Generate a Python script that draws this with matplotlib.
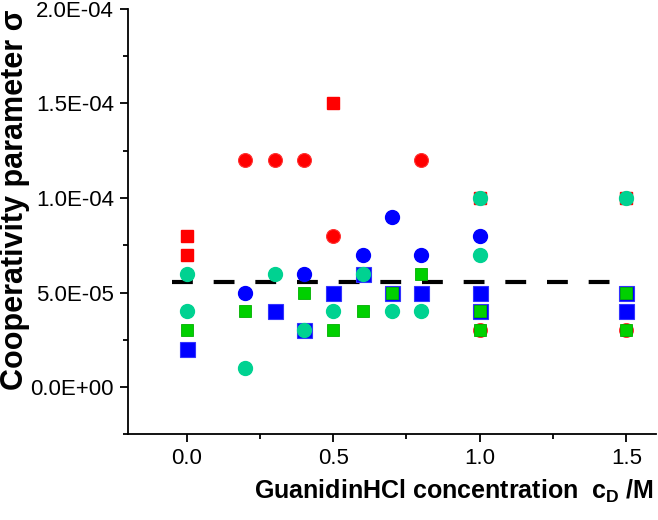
import matplotlib.pyplot as plt
from matplotlib.ticker import MultipleLocator, FuncFormatter

plt.rcParams['font.family'] = ['Liberation Sans', 'DejaVu Sans']
plt.rcParams['mathtext.fontset'] = 'custom'
plt.rcParams['mathtext.bf'] = 'Liberation Sans:bold'
plt.rcParams['mathtext.rm'] = 'Liberation Sans'

# Data (x = GuanidinHCl concentration, y = sigma)
red_sq_x = [0.0, 0.0, 0.5, 1.0, 1.5]
red_sq_y = [8e-5, 7e-5, 1.5e-4, 1e-4, 1e-4]

red_ci_x = [0.2, 0.3, 0.4, 0.5, 0.8, 1.0, 1.5]
red_ci_y = [1.2e-4, 1.2e-4, 1.2e-4, 8e-5, 1.2e-4, 3e-5, 3e-5]

blue_ci_x = [0.2, 0.4, 0.6, 0.7, 0.8, 1.0]
blue_ci_y = [5e-5, 6e-5, 7e-5, 9e-5, 7e-5, 8e-5]

blue_sq_x = [0.0, 0.3, 0.4, 0.5, 0.6, 0.7, 0.8, 1.0, 1.0, 1.5, 1.5]
blue_sq_y = [2e-5, 4e-5, 3e-5, 5e-5, 6e-5, 5e-5, 5e-5, 5e-5, 4e-5, 5e-5, 4e-5]

green_sq_x = [0.0, 0.2, 0.4, 0.5, 0.6, 0.7, 0.8, 1.0, 1.0, 1.5, 1.5]
green_sq_y = [3e-5, 4e-5, 5e-5, 3e-5, 4e-5, 5e-5, 6e-5, 4e-5, 3e-5, 5e-5, 3e-5]

teal_ci_x = [0.0, 0.0, 0.2, 0.3, 0.4, 0.5, 0.6, 0.7, 0.8, 1.0, 1.0, 1.5]
teal_ci_y = [6e-5, 4e-5, 1e-5, 6e-5, 3e-5, 4e-5, 6e-5, 4e-5, 4e-5, 1e-4, 7e-5, 1e-4]

mean_x = [-0.05, 1.5]
mean_y = [5.57e-5, 5.57e-5]

fig = plt.figure(figsize=(6.58, 5.2), dpi=100)
ax = fig.add_axes([0.1945, 0.1648, 0.802, 0.818])

ax.plot(mean_x, mean_y, color='black', lw=3, dashes=(5, 5), zorder=1)
ax.plot(red_sq_x, red_sq_y, 's', color='#ff0000', ms=9, mec='#ff0000', zorder=2)
ax.plot(red_ci_x, red_ci_y, 'o', color='#ff0000', ms=10, mec='#ff3333', mew=0.8, zorder=3)
ax.plot(blue_ci_x, blue_ci_y, 'o', color='#0000ff', ms=10, mec='#0000ff', zorder=4)
ax.plot(blue_sq_x, blue_sq_y, 's', color='#0000ff', ms=10.8, mec='#3333ff', mew=0.8, zorder=5)
ax.plot(green_sq_x, green_sq_y, 's', color='#00d000', ms=8.6, mec='#00b000', mew=0.6, zorder=6)
ax.plot(teal_ci_x, teal_ci_y, 'o', color='#00d291', ms=10, mec='#00d291', zorder=7)

ax.set_xlim(-0.2, 1.6)
ax.set_ylim(-2.5e-5, 2e-4)
ax.xaxis.set_major_locator(MultipleLocator(0.5))
ax.xaxis.set_minor_locator(MultipleLocator(0.25))
ax.set_yticks([0, 5e-5, 1e-4, 1.5e-4, 2e-4])
ax.yaxis.set_minor_locator(MultipleLocator(2.5e-5))
ax.xaxis.set_major_formatter(FuncFormatter(lambda v, p: f'{v:.1f}'))
ax.yaxis.set_major_formatter(FuncFormatter(lambda v, p: f'{v:.1E}'))

for s in ['top', 'right']:
    ax.spines[s].set_visible(False)
for s in ['left', 'bottom']:
    ax.spines[s].set_linewidth(1.3)
ax.tick_params(which='major', direction='out', length=6, width=1.3, labelsize=16, pad=4)
ax.tick_params(which='minor', direction='out', length=3.5, width=1.3)

ax.set_ylabel('Cooperativity parameter σ', fontsize=22, fontweight='bold', va='center')
ax.yaxis.set_label_coords(-0.215, 0.551)
ax.set_xlabel(r'GuanidinHCl concentration  $\mathbf{c_D}$ /M', fontsize=18, fontweight='bold')
ax.xaxis.set_label_coords(0.618, -0.103)

fig.savefig('out.png', dpi=100)
